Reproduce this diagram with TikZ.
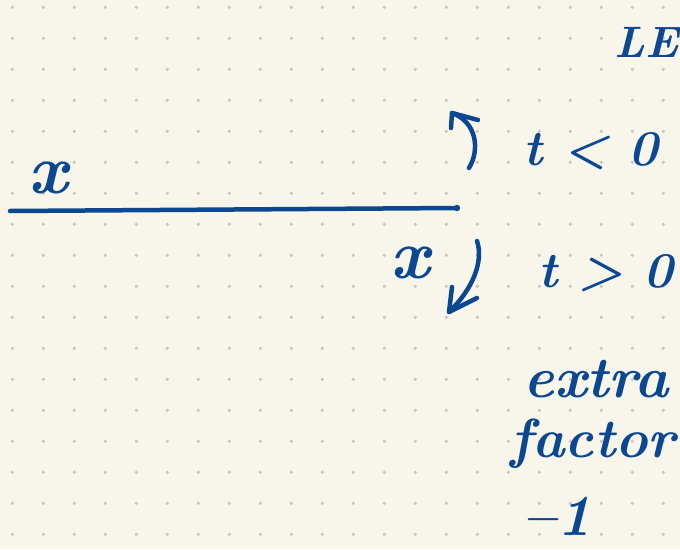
\documentclass[tikz,border=0pt]{standalone}
\usepackage{fontspec}
\definecolor{paper}{RGB}{248,246,235}
\definecolor{dotc}{RGB}{200,199,190}
\definecolor{ink}{RGB}{12,72,145}
\begin{document}
\begin{tikzpicture}[x=1pt,y=-1pt,
  inkline/.style={draw=ink,line width=4.5pt,line cap=round,line join=round},
  hand/.style={text=ink,inner sep=0pt,font=\fontsize{#1}{#1}\selectfont\bfseries\itshape},
  hand/.default=56]
\useasboundingbox (0,0) rectangle (680,549);
\fill[paper] (0,0) rectangle (680,549);
\foreach \i in {0,...,21} \foreach \j in {0,...,17}
  \fill[dotc] ({12.3+31*\i},{7.3+31*\j}) circle (1.8pt);
% axis line
\coordinate (lineL) at (10,211);
\coordinate (lineR) at (457,208);
\draw[inkline] (lineL) -- (lineR);
\fill[ink] (lineR) circle (3.2pt);
% labels
\node[hand=70] (xa) at (48,178) {x};
\node[hand=70] (xb) at (410,263) {x};
% upper arrow
\coordinate (upS) at (469,168);
\coordinate (upT) at (452,113);
\draw[inkline] (upS) .. controls (480,150) and (477,122) .. (upT);
\draw[inkline] (451,128) -- (upT) -- (478,120);
% lower arrow
\coordinate (dnS) at (477,241);
\coordinate (dnT) at (449,312);
\draw[inkline] (dnS) .. controls (484,262) and (472,290) .. (dnT);
\draw[inkline] (452,287) -- (dnT) -- (477,298);
% right texts
\node[hand=50] (tneg) at (591,151) {t < 0};
\node[hand=50] (tpos) at (606,273) {t > 0};
\node[hand=58] (extra) at (596,379) {extra};
\node[hand=55] (factor) at (593,444) {factor};
\node[hand=58] (minus) at (557,516) {–1};
\node[hand=44,anchor=east] (lec) at (679,42) {LE};
\end{tikzpicture}
\end{document}
